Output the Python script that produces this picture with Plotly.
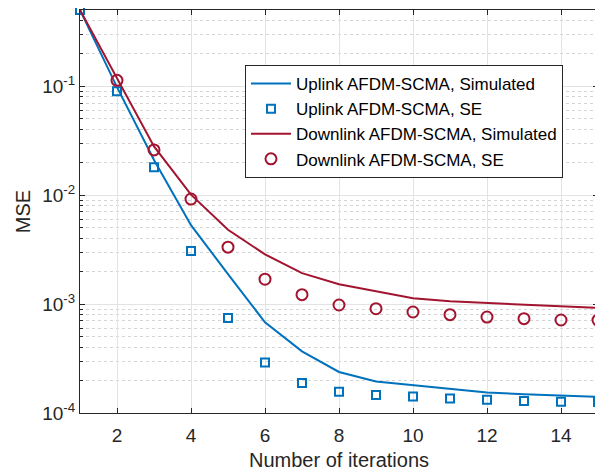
import plotly.graph_objects as go

iterations = list(range(1, 16))
uplink_sim = [0.5, 0.098, 0.021, 0.0053, 0.00188, 6.8e-4, 3.68e-4, 2.38e-4, 1.95e-4, 1.8e-4, 1.65e-4, 1.54e-4, 1.49e-4, 1.44e-4, 1.41e-4]
uplink_se = [0.5, 0.09, 0.018, 0.00307, 7.45e-4, 2.91e-4, 1.89e-4, 1.57e-4, 1.46e-4, 1.42e-4, 1.36e-4, 1.32e-4, 1.29e-4, 1.27e-4, 1.26e-4]
downlink_sim = [0.5, 0.12, 0.028, 0.0101, 0.0048, 0.00286, 0.00192, 0.00152, 0.00132, 0.00113, 0.00106, 0.00102, 9.8e-4, 9.45e-4, 9.2e-4]
downlink_se = [None, 0.113, 0.026, 0.0092, 0.00333, 0.00169, 0.00122, 9.8e-4, 9.06e-4, 8.45e-4, 7.99e-4, 7.6e-4, 7.34e-4, 7.14e-4, 7.12e-4]

x_ticks = [2, 4, 6, 8, 10, 12, 14]
y_ticks = [1e-4, 1e-3, 1e-2, 1e-1]
y_tick_labels = ["10<sup>-4</sup>", "10<sup>-3</sup>", "10<sup>-2</sup>", "10<sup>-1</sup>"]
y_minor_ticks = [m * d for d in (1e-4, 1e-3, 1e-2, 1e-1) for m in range(2, 10) if m * d <= 0.5]

blue = "#0072BD"
red = "#A2142F"

fig = go.Figure()
fig.add_trace(go.Scatter(x=iterations, y=uplink_sim, mode="lines", name="Uplink AFDM-SCMA, Simulated",
                         line=dict(color=blue, width=2)))
fig.add_trace(go.Scatter(x=iterations, y=uplink_se, mode="markers", name="Uplink AFDM-SCMA, SE",
                         cliponaxis=False,
                         marker=dict(symbol="square-open", size=8, color=blue, line=dict(width=2))))
fig.add_trace(go.Scatter(x=iterations, y=downlink_sim, mode="lines", name="Downlink AFDM-SCMA, Simulated",
                         line=dict(color=red, width=2)))
fig.add_trace(go.Scatter(x=iterations, y=downlink_se, mode="markers", name="Downlink AFDM-SCMA, SE",
                         cliponaxis=False,
                         marker=dict(symbol="circle-open", size=11, color=red, line=dict(width=2))))

font_family = "Liberation Sans, Arial, Helvetica, sans-serif"

fig.update_layout(
    width=595, height=463,
    margin=dict(l=72, r=5, t=2, b=58),
    paper_bgcolor="white", plot_bgcolor="white",
    font=dict(family=font_family, size=19, color="#262626"),
    showlegend=True,
    legend=dict(x=0.3185, y=0.8635, xanchor="left", yanchor="top",
                bgcolor="white", bordercolor="#262626", borderwidth=1,
                font=dict(size=17, color="#000000"), tracegroupgap=0,
                itemwidth=40),
)

fig.update_xaxes(
    range=[1, 15], tickvals=x_ticks, automargin=False,
    showgrid=True, gridcolor="#e3e3e3", gridwidth=1,
    showline=True, linecolor="#262626", linewidth=1, mirror="ticks",
    ticks="inside", ticklen=5, tickcolor="#262626",
    zeroline=False, ticklabelstandoff=5,
    title=dict(text="Number of iterations", font=dict(size=20), standoff=8),
    tickfont=dict(size=19),
)
fig.update_yaxes(
    type="log", range=[-4, -0.301], automargin=False,
    tickvals=y_ticks, ticktext=y_tick_labels,
    showgrid=True, gridcolor="#e3e3e3", gridwidth=1,
    showline=True, linecolor="#262626", linewidth=1, mirror="ticks",
    ticks="inside", ticklen=5, tickcolor="#262626",
    zeroline=False,
    minor=dict(tickmode="array", tickvals=y_minor_ticks,
               showgrid=True, gridcolor="#d4d4d4", griddash="dot", gridwidth=1,
               ticks="inside", ticklen=3, tickcolor="#262626"),
    title=dict(text="MSE", font=dict(size=20), standoff=6),
    tickfont=dict(size=19),
)

fig.write_html("out.html")
